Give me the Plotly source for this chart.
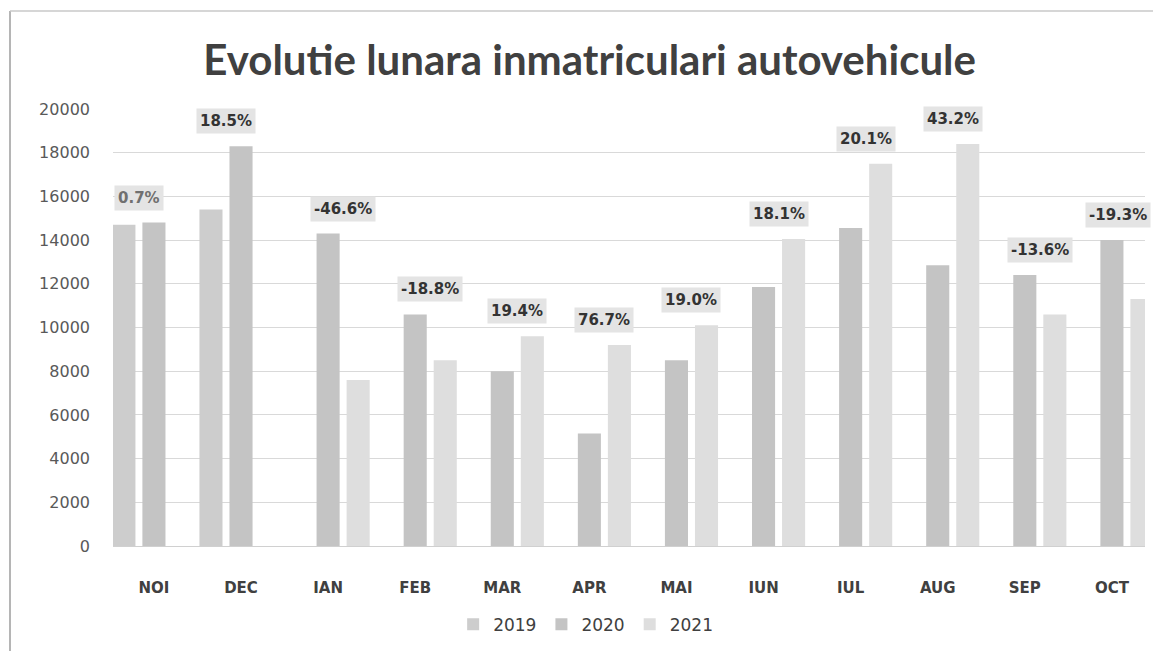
import plotly.graph_objects as go

months = ["NOI", "DEC", "IAN", "FEB", "MAR", "APR", "MAI", "IUN", "IUL", "AUG", "SEP", "OCT"]
v2019 = [14700, 15400, None, None, None, None, None, None, None, None, None, None]
v2020 = [14800, 18300, 14300, 10600, 8000, 5150, 8500, 11850, 14550, 12850, 12400, 14000]
v2021 = [None, None, 7600, 8500, 9600, 9200, 10100, 14050, 17500, 18400, 10600, 11300]
pct_labels = ["0.7%", "18.5%", "-46.6%", "-18.8%", "19.4%", "76.7%", "19.0%",
              "18.1%", "20.1%", "43.2%", "-13.6%", "-19.3%"]
years = ["2019", "2020", "2021"]
colors = ["#cdcdcd", "#c4c4c4", "#dedede"]

bar_w = 0.265
step = 0.345
fig = go.Figure()
for i, (name, vals, col) in enumerate(zip(years, [v2019, v2020, v2021], colors)):
    fig.add_trace(go.Bar(
        name=name, x=months, y=vals, marker=dict(color=col, line=dict(width=0)),
        width=bar_w, offset=(i - 1) * step - bar_w / 2,
    ))

annotations = []
for k, lab in enumerate(pct_labels):
    if v2021[k] is None:
        xpos = k - step / 2
        top = max(v2019[k], v2020[k])
    else:
        xpos = k + step / 2
        top = max(v2020[k], v2021[k])
    annotations.append(dict(
        x=xpos, y=top, xref="x", yref="y", text=lab, showarrow=False,
        yanchor="bottom", yshift=12, xshift=-9 if k == len(pct_labels) - 1 else 0,
        bgcolor="#e4e4e4", borderpad=3,
        font=dict(family="DejaVu Sans", size=15, color="#707070" if k == 0 else "#333333", weight="bold"),
    ))

fig.update_layout(
    width=1145, height=643,
    paper_bgcolor="white", plot_bgcolor="white",
    barmode="overlay",
    margin=dict(l=105, r=8, t=101, b=100),
    title=dict(text="<b>Evolutie lunara inmatriculari autovehicule</b>",
               x=0.508, xanchor="center", y=0.919, yanchor="middle",
               font=dict(family="Lato", size=42, color="#404040")),
    annotations=annotations,
    legend=dict(orientation="h", x=0.458, xanchor="center", y=-0.18, yanchor="middle",
                font=dict(family="DejaVu Sans", size=17, color="#404040"),
                itemwidth=30, traceorder="normal"),
    showlegend=True,
    shapes=[
        dict(type="line", xref="paper", yref="paper", x0=-0.0998, x1=-0.0998, y0=1.224, y1=-0.3,
             line=dict(color="#b5b5b5", width=2)),
        dict(type="line", xref="paper", yref="paper", x0=-0.0998, x1=1.1, y0=1.224, y1=1.224,
             line=dict(color="#c8c8c8", width=1.5)),
    ],
)
fig.update_yaxes(range=[0, 20000], dtick=2000, tickformat="d", showgrid=True, gridcolor="#d9d9d9", gridwidth=1,
                 zeroline=False, showline=False, ticks="", ticklabelstandoff=22,
                 tickfont=dict(family="DejaVu Sans", size=16, color="#595959"))
fig.update_xaxes(range=[-0.47, 11.38], showgrid=False, showline=True, linecolor="#d0d0d0", linewidth=1,
                 ticks="", ticklabelstandoff=28,
                 tickfont=dict(family="DejaVu Sans", size=15, color="#404040", weight="bold"))

fig.write_html("out.html")
